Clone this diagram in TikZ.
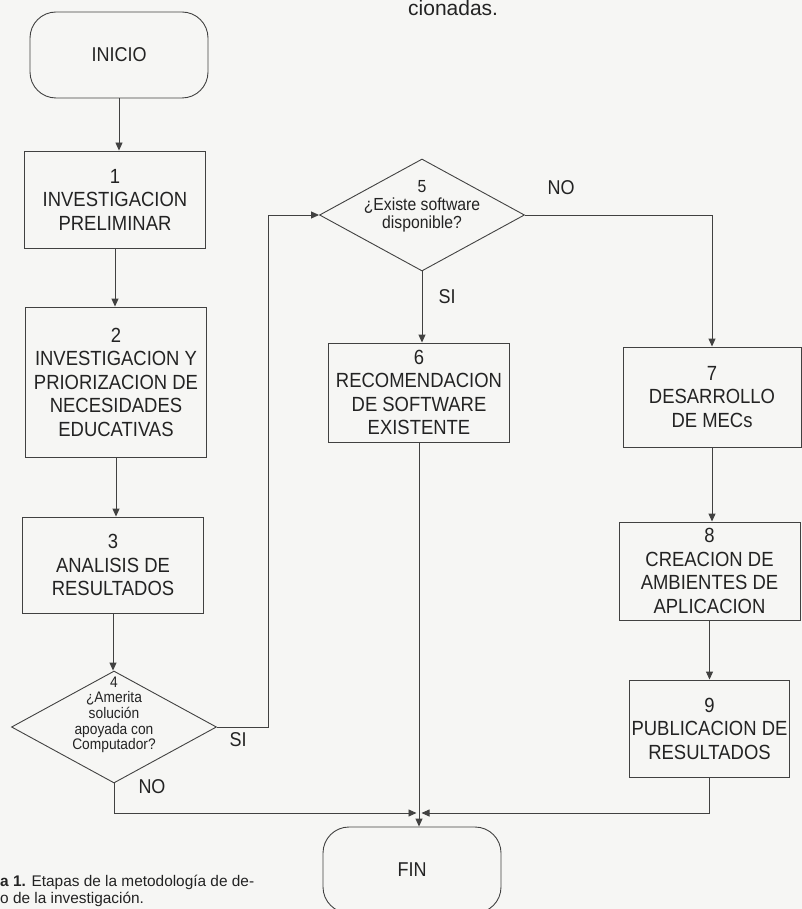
\documentclass[tikz,border=0pt]{standalone}
\usepackage{fontspec}
\setmainfont{Liberation Sans}
\newfontfamily\bxf[FakeStretch=0.9]{Liberation Sans}
\usetikzlibrary{shapes.geometric,arrows.meta}
\definecolor{ink}{RGB}{35,35,35}
\definecolor{lineink}{RGB}{65,65,65}
\definecolor{paper}{RGB}{246,246,244}
\newcommand\dtext[3]{\raisebox{#1}[0pt][0pt]{\makebox[0pt]{\fontsize{#2}{#2}\selectfont\def\arraystretch{1}\begin{tabular}{@{}c@{}}#3\end{tabular}}}}
\tikzset{
  ln/.style={draw=lineink, line width=0.9pt},
  arr/.style={ln, -{Triangle[length=8pt,width=7pt]}},
  proc/.style={ln, rectangle, align=center, inner sep=2pt, text=ink,
    font=\bxf\fontsize{20.5}{23.5}\selectfont},
  term/.style={ln, rectangle, rounded corners=26pt, text=ink,
    font=\bxf\fontsize{20}{24}\selectfont, minimum width=178pt, minimum height=86pt},
  dec/.style={ln, diamond, inner sep=0pt, minimum width=205pt, minimum height=112pt,
    text=ink, font=\bxf},
  lbl/.style={font=\bxf\fontsize{20}{24}\selectfont, text=ink, inner sep=0pt},
  captxt/.style={font=\fontsize{15.4}{17}\selectfont, text=ink, inner sep=0pt, anchor=base west},
}
\begin{document}
\begin{tikzpicture}[x=1pt,y=-1pt]
\useasboundingbox (0,0) rectangle (802,909);
\fill[paper] (0,0) rectangle (802,909);
\clip (0,0) rectangle (802,909);

% left column
\node[term] (ini) at (119,55) {INICIO};
\node[proc, minimum width=181pt, minimum height=97pt] (b1) at (115,199.5) {1\\INVESTIGACION\\PRELIMINAR};
\node[proc, minimum width=181pt, minimum height=150pt] (b2) at (116,382) {2\\INVESTIGACION Y\\PRIORIZACION DE\\NECESIDADES\\EDUCATIVAS};
\node[proc, minimum width=181pt, minimum height=96pt] (b3) at (113,565) {3\\ANALISIS DE\\RESULTADOS};
\node[dec] (d4) at (114,727) {\dtext{8pt}{15.3}{4\\¿Amerita\\solución\\apoyada con\\Computador?}};

% middle column
\node[dec] (d5) at (422,215) {\dtext{4pt}{17.5}{5\\¿Existe software\\disponible?}};
\node[proc, minimum width=181pt, minimum height=99pt] (b6) at (419,392.5) {6\\RECOMENDACION\\DE SOFTWARE\\EXISTENTE};
\node[term] (fin) at (412,870) {FIN};

% right column
\node[proc, minimum width=178pt, minimum height=100pt] (b7) at (712,397) {7\\DESARROLLO\\DE MECs};
\node[proc, minimum width=181pt, minimum height=98pt] (b8) at (709.5,571) {8\\CREACION DE\\AMBIENTES DE\\APLICACION};
\node[proc, minimum width=145pt, minimum height=97pt] (b9) at (709.5,728.5) {9\\PUBLICACION DE\\RESULTADOS};

\coordinate (j1) at (268,212);
\coordinate (m) at (419,813);

% connectors
\draw[arr] (ini.south) -- (ini.south |- b1.north);
\draw[arr] (b1.south) -- (b1.south |- b2.north);
\draw[arr] (b2.south) -- (b2.south |- b3.north);
\draw[arr] (b3.south) -- (b3.south |- d4.north);
\draw[arr] (d4.east) -- (d4.east -| j1) -- (j1 |- d5.west) -- (d5.west);
\draw[arr] (d5.south) -- (d5.south |- b6.north);
\draw[arr] (d5.east) -- (d5.east -| b7.north) -- (b7.north);
\draw[arr] (b7.south) -- (b7.south |- b8.north);
\draw[arr] (b8.south) -- (b8.south |- b9.north);
\draw[arr] (b6.south) -- (b6.south |- fin.north);
\draw[arr] (d4.south) -- (d4.south |- m) -- ([xshift=-2.5pt]m);
\draw[arr] (b9.south) -- (b9.south |- m) -- ([xshift=2.5pt]m);

% branch labels
\node[lbl] (no5) at (561,188) {NO};
\node[lbl] (si5) at (447,297) {SI};
\node[lbl] (si4) at (238,740) {SI};
\node[lbl] (no4) at (152,787) {NO};

% cut-off page text
\node[captxt] (cap1) at (0,886) {\textbf{a 1.} Etapas de la metodología de de-};
\node[captxt] (cap2) at (0,903) {o de la investigación.};
\node[font=\fontsize{21}{24}\selectfont, text=ink, inner sep=0pt, anchor=base west] (top) at (408,16) {cionadas.};
\end{tikzpicture}
\end{document}
